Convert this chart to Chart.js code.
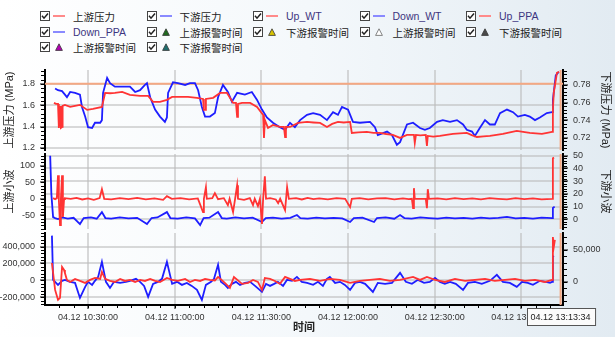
<!DOCTYPE html>
<html>
<head>
<meta charset="utf-8">
<script src="https://cdn.jsdelivr.net/npm/chart.js@4.4.0/dist/chart.umd.min.js"></script>
<style>
html,body{margin:0;padding:0;}
body{width:615px;height:337px;overflow:hidden;position:relative;
  background:linear-gradient(to right,#ffffff 0%,#f4f8fb 50%,#e2ebf2 100%);
  font-family:'Liberation Sans','Noto Sans CJK SC',sans-serif;}
canvas{position:absolute;left:0;top:0;}
.item{position:absolute;height:14px;display:flex;align-items:center;font-size:10.5px;color:#222;white-space:nowrap;}
.item .sw{width:12px;margin-left:3px;margin-right:8px;display:flex;align-items:center;justify-content:center;}
.item .en{color:#3d3580;}
</style>
</head>
<body>
<div id="legend"></div>
<canvas id="c1" width="615" height="337"></canvas>
<canvas id="c2" width="615" height="337"></canvas>
<canvas id="c3" width="615" height="337"></canvas>
<script>
// ---------------- data ----------------
const DAY = '04.12';
const xTickTimes = ['10:30:00','11:00:00','11:30:00','12:00:00','12:30:00','13:00:00'];
const xRange = ['10:15:06','13:14:24'];
const cursorTime = '13:13:34';
const upAlarmLevel = 1.8;

// legend entries: [marker, colour, label]
const legendItems = [
  ['line','#ff8a8a','上游压力'],['line','#8a8aff','下游压力'],['line','#ff8a8a','Up_WT'],['line','#8a8aff','Down_WT'],['line','#ff8a8a','Up_PPA'],
  ['line','#8a8aff','Down_PPA'],['tri','#1f6b1f','上游报警时间'],['tri','#d8c400','下游报警时间'],['tri','#ffffff','上游报警时间'],['tri','#4a4a4a','下游报警时间'],
  ['tri','#b400b4','上游报警时间'],['tri','#1f6f6f','下游报警时间']
];

// time in minutes after 10:00, value
const upPress = [[18.2,1.622],[18.9,1.612],[19.6,1.612],[19.9,1.387],[20.3,1.593],[20.6,1.387],[21.0,1.396],[21.2,1.593],[22.0,1.603],[23.8,1.584],[25.5,1.594],[27.2,1.603],[29.7,1.556],[31.7,1.565],[34.8,1.584],[35.9,1.715],[37.6,1.712],[39.3,1.715],[41.8,1.725],[44.5,1.697],[48.0,1.687],[50.8,1.687],[52.5,1.631],[54.9,1.631],[57.3,1.650],[59.1,1.678],[61.8,1.678],[64.6,1.678],[67.7,1.669],[69.8,1.659],[70.1,1.556],[70.5,1.556],[70.8,1.659],[73.3,1.669],[75.7,1.715],[78.1,1.715],[80.2,1.622],[81.2,1.622],[81.6,1.490],[81.9,1.612],[83.3,1.622],[86.1,1.622],[88.5,1.584],[90.6,1.509],[90.9,1.293],[91.2,1.462],[92.3,1.387],[94.0,1.415],[96.4,1.396],[97.8,1.396],[98.2,1.302],[98.5,1.396],[99.9,1.396],[102.7,1.434],[105.8,1.443],[108.0,1.438],[110.3,1.434],[112.7,1.396],[114.5,1.425],[116.5,1.443],[118.5,1.438],[120.7,1.443],[121.0,1.443],[121.3,1.340],[123.5,1.345],[126.5,1.349],[128.8,1.340],[131.0,1.340],[133.2,1.330],[135.5,1.321],[138.0,1.293],[140.4,1.321],[142.8,1.321],[143.1,1.246],[143.5,1.321],[145.0,1.318],[146.9,1.321],[147.3,1.218],[147.6,1.312],[149.5,1.305],[151.8,1.312],[154.0,1.322],[156.3,1.331],[158.7,1.336],[161.1,1.340],[162.8,1.320],[164.6,1.302],[166.9,1.308],[169.1,1.312],[171.4,1.322],[173.6,1.331],[176.0,1.345],[178.4,1.359],[180.6,1.350],[182.9,1.340],[185.0,1.336],[187.1,1.331],[188.9,1.340],[190.6,1.349],[190.9,1.556],[191.2,1.715],[192.3,1.903],[193.0,1.913]];

const downPress = [[18.6,0.776],[19.6,0.774],[21.0,0.773],[22.0,0.769],[22.7,0.766],[23.8,0.772],[25.5,0.771],[27.2,0.769],[27.9,0.755],[29.0,0.744],[30.0,0.732],[31.4,0.731],[32.4,0.737],[34.2,0.737],[34.8,0.740],[35.2,0.771],[36.6,0.788],[37.6,0.782],[39.3,0.778],[41.8,0.778],[44.5,0.778],[46.3,0.772],[48.0,0.774],[49.7,0.780],[50.4,0.782],[51.5,0.766],[53.2,0.752],[54.9,0.744],[56.6,0.738],[57.3,0.743],[57.7,0.771],[59.4,0.783],[61.1,0.782],[63.6,0.780],[65.3,0.782],[67.0,0.782],[68.1,0.774],[69.4,0.755],[70.5,0.744],[72.2,0.744],[73.9,0.748],[75.0,0.766],[76.7,0.780],[78.4,0.772],[79.8,0.761],[81.6,0.771],[84.3,0.769],[86.7,0.772],[88.5,0.763],[90.2,0.752],[91.9,0.743],[94.0,0.737],[96.4,0.732],[98.2,0.729],[99.9,0.737],[101.6,0.732],[103.4,0.740],[105.8,0.746],[107.9,0.748],[110.3,0.746],[112.7,0.740],[114.8,0.749],[116.5,0.746],[117.9,0.755],[120.0,0.752],[121.7,0.738],[124.1,0.737],[127.6,0.738],[129.3,0.732],[130.3,0.723],[133.5,0.727],[135.2,0.723],[136.9,0.712],[138.0,0.715],[140.4,0.735],[142.5,0.737],[144.9,0.731],[146.6,0.729],[148.3,0.731],[150.8,0.738],[152.8,0.740],[155.3,0.738],[157.7,0.740],[159.8,0.735],[161.1,0.729],[162.9,0.727],[163.9,0.722],[165.6,0.731],[167.4,0.740],[169.1,0.735],[170.8,0.735],[172.6,0.748],[175.0,0.752],[177.1,0.749],[178.8,0.744],[181.2,0.746],[182.9,0.744],[184.7,0.740],[186.4,0.743],[188.8,0.748],[190.6,0.749],[190.9,0.763],[191.9,0.791],[193.0,0.795]];

const upWT = [[17.9,2],[18.6,-1],[19.2,2],[19.6,71],[19.9,-4],[20.3,-79],[20.6,0],[21.0,71],[21.3,-55],[21.7,-1],[22.0,2],[24,0],[26,3],[28,-2],[30,1],[32,-3],[34,2],[34.8,29],[35.6,0],[38,-2],[41,2],[44,-1],[47,3],[50,-2],[53,1],[56,-3],[57.3,8],[59,0],[62,2],[65,-2],[68,1],[69.8,-40],[70.1,0],[70.8,35],[71.1,0],[73,2],[73.9,17],[75,-1],[77,2],[78.4,-19],[79,0],[80.2,-40],[80.9,0],[81.6,41],[81.9,0],[84,-3],[86,2],[87.1,-19],[87.7,0],[88.8,-22],[89.5,0],[90.2,-76],[90.6,0],[91.2,68],[91.6,0],[93,2],[95,-2],[95.8,-13],[96.5,0],[98.2,-34],[98.9,35],[99.5,0],[102,2],[104,-2],[106,3],[108,-1],[110,1],[113,-2],[116,2],[119,0],[120.7,-25],[121.3,0],[124,2],[127,-2],[130,1],[133,2],[136,-2],[139,1],[141,-1],[142.1,0],[142.5,-28],[142.8,32],[143.1,0],[146.9,0],[147.3,-28],[147.6,29],[148,0],[151,1],[154,-2],[157,2],[160,-1],[163,1],[166,-2],[169,2],[172,0],[175,-2],[178,2],[181,-1],[184,1],[187,-2],[190.6,0],[190.9,122],[191.3,124]];

const downWT = [[16.9,50],[17.3,20],[17.9,1.8],[18.6,1.0],[19.6,0.2],[21,1.5],[23,0.5],[25,1.2],[27.2,-3.7],[28.5,1],[31,1.5],[33,0.5],[34.8,5.7],[36,1],[38,0.5],[41,1.5],[44,0.8],[47,1.2],[50.4,-3.7],[52,1],[54,1.5],[57.3,5.7],[58.5,1],[61,0.5],[64,1.5],[67,0.7],[68.8,-4.5],[70,1],[72,1.3],[75,5.7],[76.3,1],[78,0.5],[81,1.5],[84,0.8],[87,1.3],[90.2,-2.1],[91.5,1],[94,1.4],[97,0.6],[100,1.2],[102.3,3.4],[103.5,1],[106,0.6],[109,1.4],[112,0.8],[115,1.2],[118,0.7],[120.7,-2.1],[122,1],[125,1.3],[129,-2.1],[130,1],[133,1.5],[136,0.5],[138,3.4],[139.5,1],[142,0.5],[145,1.5],[148,1],[151,0.6],[154,1.3],[157,0.8],[160,1.2],[163,0.5],[166,1.4],[169,0.8],[172,1.2],[175,2],[178,0.7],[181,1.2],[184,0.6],[187,1.3],[190.6,1],[190.9,8.9],[191.5,10]];

const upPPA = [[17.5,206000],[18.6,-112000],[19.6,-229000],[20.3,-206000],[21.0,159000],[21.7,124000],[22.0,88000],[22.7,6000],[23.8,-18000],[25.5,18000],[27.2,-6000],[29.0,-29000],[30.7,6000],[32.4,29000],[34.2,18000],[34.8,100000],[35.9,18000],[37.6,-6000],[39.3,-18000],[41.1,18000],[42.8,-6000],[44.5,6000],[46.3,-18000],[48.0,6000],[49.7,-6000],[51.5,18000],[53.2,-6000],[54.9,-18000],[57.3,29000],[59.1,6000],[61.1,-6000],[63.6,18000],[65.3,-18000],[67.0,6000],[68.8,-6000],[70.5,18000],[72.2,6000],[73.9,0],[75.0,41000],[76.4,0],[77.7,-41000],[79.1,-88000],[80.5,41000],[81.9,0],[83.3,-41000],[85.4,-29000],[87.1,6000],[88.8,-18000],[90.2,-112000],[91.2,29000],[93.0,18000],[94.7,-6000],[96.4,-41000],[98.2,41000],[99.9,18000],[101.6,-6000],[103.4,6000],[106.8,18000],[110.3,-6000],[113.7,18000],[117.2,6000],[120.7,-29000],[124.1,-6000],[127.6,6000],[131.0,18000],[134.5,-6000],[138.0,6000],[142.5,41000],[144.9,6000],[147.3,41000],[150.1,6000],[153.5,-18000],[157.0,18000],[160.5,-6000],[163.9,6000],[167.4,18000],[170.8,-6000],[174.3,6000],[177.8,18000],[181.2,-6000],[184.7,6000],[188.2,-18000],[190.6,6000],[190.9,512000],[191.2,394000],[191.6,480000]];

const downPPA = [[17.5,71900],[17.9,3100],[18.6,0],[19.6,-4700],[21.0,1600],[22.0,3100],[23.8,0],[25.5,-1600],[27.2,-25000],[29.0,-7800],[30.0,0],[31.4,-4700],[32.4,1600],[33.5,7800],[34.8,31250],[36.2,0],[37.6,-9400],[39.0,0],[41.1,-1600],[43.1,0],[44.5,1600],[46.6,4700],[48.0,0],[49.4,-6250],[50.8,-23400],[52.5,-3100],[54.2,0],[55.6,4700],[57.3,31250],[59.1,-3100],[60.8,0],[62.5,-4700],[64.2,-1600],[65.9,-6250],[67.7,-12500],[69.4,-28100],[70.8,-4700],[72.6,0],[73.6,4700],[75.0,26600],[76.0,0],[77.4,-4700],[78.4,-9400],[79.8,-3100],[81.2,0],[82.6,-4700],[84.3,-1600],[86.1,0],[87.8,-6250],[90.2,-15600],[91.6,-3100],[93.0,-6250],[94.4,-3100],[95.7,0],[97.5,-6250],[98.9,3100],[100.6,1600],[102.3,7800],[104.0,0],[105.8,-1600],[107.9,-4700],[109.6,0],[111.3,-6250],[112.7,4700],[113.7,7800],[115.5,-1600],[117.2,0],[118.9,-4700],[120.7,-12500],[122.4,-1600],[124.1,0],[125.9,-3100],[128.6,-15600],[130.3,-1600],[132.8,-3100],[135.2,-1600],[138.0,14000],[140.0,0],[142.1,-3100],[144.2,3100],[146.3,-1600],[148.3,0],[150.1,6250],[151.8,0],[153.5,-3100],[155.3,0],[157.3,-3100],[159.8,-12500],[161.5,-1600],[163.9,0],[166.3,-3100],[169.1,1600],[171.5,10900],[173.6,0],[176.0,-1600],[178.4,-7800],[180.2,0],[182.2,-1600],[184.0,-4700],[186.4,1600],[188.5,0],[189.9,-1600],[190.6,0],[190.9,39000],[191.2,40600]];

// ---------------- helpers ----------------
const toMin = s => { const [h,m,sec] = s.split(':').map(Number); return (h-10)*60 + m + (sec||0)/60; };
const pad2 = n => String(n).padStart(2,'0');
const fmtTime = v => { const tot = Math.round(v*60) + 36000; return pad2(Math.floor(tot/3600))+':'+pad2(Math.floor(tot%3600/60))+':'+pad2(tot%60); };
const pts = arr => arr.map(([x,y]) => ({x, y}));

// legend
const leg = document.getElementById('legend');
const colX = [40,146.5,253,359.5,466], rowY = [16,32,47];
legendItems.forEach(([kind,col,label],i) => {
  const d = document.createElement('div');
  d.className = 'item';
  d.style.left = colX[i%5]+'px';
  d.style.top = (rowY[Math.floor(i/5)]-7)+'px';
  const cb = '<svg width="10" height="10"><rect x="0.5" y="0.5" width="9" height="9" fill="#fff" stroke="#444"/><path d="M2 4.8 L4 7.2 L8 2.4" stroke="#222" stroke-width="1.5" fill="none"/></svg>';
  const sw = kind==='line'
    ? '<div style="width:12px;height:2px;background:'+col+'"></div>'
    : '<svg width="8" height="8"><polygon points="4,0.8 7.4,7.4 0.6,7.4" fill="'+col+'" stroke="'+(col==='#ffffff'?'#666':'#333')+'" stroke-width="0.8"/></svg>';
  const en = /^[A-Za-z_]+$/.test(label);
  d.innerHTML = cb + '<div class="sw">'+sw+'</div><span class="'+(en?'en':'')+'">'+label+'</span>';
  leg.appendChild(d);
});

// ---------------- chart setup ----------------
const FONT = "'Liberation Sans','Noto Sans CJK SC',sans-serif";
Chart.defaults.font.family = FONT;
Chart.defaults.font.size = 9;
Chart.defaults.color = '#333';
const GRID = 'rgba(185,185,185,0.55)';
const RED = '#ff3434', BLUE = '#1e1eff', ORANGE = '#f4a883';

const minorTicks = {
  id:'minorTicks',
  afterDraw(chart, args, opts) {
    const ctx = chart.ctx;
    ctx.save(); ctx.strokeStyle = '#000'; ctx.lineWidth = 1;
    ['yL','yR'].forEach(id => {
      const s = chart.scales[id]; if (!s) return;
      const t = s.ticks.map(k => k.value); if (t.length < 2) return;
      const step = (t[1]-t[0]) / (opts.n || 5);
      let v = t[0];
      while (v - step >= s.min) v -= step;
      for (; v <= s.max + 1e-9; v += step) {
        const y = Math.round(s.getPixelForValue(v)) + 0.5;
        const x0 = id==='yL' ? s.right - 1 : s.left + 1;
        ctx.beginPath(); ctx.moveTo(x0, y); ctx.lineTo(x0 + (id==='yL'?-3:3), y); ctx.stroke();
      }
    });
    if (opts.xMinor) {
      const s = chart.scales.x;
      for (let v = Math.ceil(s.min/opts.xMinor)*opts.xMinor; v <= s.max; v += opts.xMinor) {
        const x = Math.round(s.getPixelForValue(v)) + 0.5;
        ctx.beginPath(); ctx.moveTo(x, s.top+1); ctx.lineTo(x, s.top+3); ctx.stroke();
      }
    }
    ctx.restore();
  }
};

const markers = {
  id:'markers',
  beforeDatasetsDraw(chart, args, opts) {
    if (opts.hLine == null) return;
    const {ctx, chartArea:a, scales} = chart;
    const y = scales.yL.getPixelForValue(opts.hLine);
    ctx.save(); ctx.strokeStyle = ORANGE; ctx.lineWidth = 2;
    ctx.beginPath(); ctx.moveTo(a.left, y); ctx.lineTo(a.right, y); ctx.stroke();
    ctx.restore();
  },
  afterDatasetsDraw(chart, args, opts) {
    const {ctx, chartArea:a, scales} = chart;
    const x = scales.x.getPixelForValue(toMin(cursorTime));
    ctx.save(); ctx.strokeStyle = ORANGE; ctx.lineWidth = 2;
    ctx.beginPath(); ctx.moveTo(x, a.top); ctx.lineTo(x, a.bottom); ctx.stroke();
    ctx.restore();
  },
  afterDraw(chart, args, opts) {
    if (!opts.box) return;
    const {ctx, chartArea:a, scales} = chart;
    const x = scales.x.getPixelForValue(toMin(cursorTime));
    const txt = DAY + ' ' + cursorTime;
    ctx.save();
    ctx.font = '9px ' + FONT;
    const w = ctx.measureText(txt).width + 8, h = 17;
    const bx = Math.round(x - w/2) + 0.5, by = Math.round(a.bottom + 3) + 0.5;
    ctx.fillStyle = '#fbfbfb'; ctx.fillRect(bx, by, w, h);
    ctx.strokeStyle = '#555'; ctx.lineWidth = 1; ctx.strokeRect(bx, by, w, h);
    ctx.fillStyle = '#222'; ctx.textAlign = 'center'; ctx.textBaseline = 'middle';
    ctx.fillText(txt, x, by + h/2 + 0.5);
    ctx.restore();
  }
};

function xScale(bottom) {
  return {
    type:'linear', min: toMin(xRange[0]), max: toMin(xRange[1]),
    afterBuildTicks: s => { s.ticks = xTickTimes.map(t => ({value: toMin(t)})); },
    ticks: {display: bottom, autoSkip:false, maxRotation:0, padding:3, color:'#333',
            callback: v => DAY + ' ' + fmtTime(v)},
    grid: {color: GRID, lineWidth: 2, drawTicks: bottom, tickLength: 4, tickColor:'#000', tickWidth:1},
    border: {display: bottom, color:'#000', width:2},
    title: {display: bottom, text:'时间', color:'#222', font:{size:11, weight:'bold'}, padding:{top:0,bottom:2}},
    afterFit: s => { s.height = bottom ? 32 : 0; s.paddingLeft = 0; s.paddingRight = 0; }
  };
}

function yScale(pos, min, max, step, fmt, title, grid) {
  return {
    position: pos, min, max,
    afterBuildTicks: s => {
      const t = [];
      for (let k = Math.ceil(min/step - 1e-9); k*step <= max + 1e-9; k++) t.push({value: +(k*step).toFixed(6)});
      s.ticks = t;
    },
    ticks: {stepSize: step, includeBounds:false, padding:5, color:'#333', callback: fmt},
    grid: {drawOnChartArea: grid, color: GRID, lineWidth: 2, tickLength: 5, tickColor:'#000', tickWidth:1},
    border: {color:'#000', width:2},
    title: {display: !!title, text: title, color:'#222', font:{size:11}, padding:{top:3.5, bottom:0}},
    afterFit: s => { s.width = pos==='left' ? 45 : 52; s.paddingTop = 0; s.paddingBottom = 0; }
  };
}

function lineDs(label, data, color, axis) {
  return {label, data: pts(data), yAxisID: axis, borderColor: color, backgroundColor: color,
          borderWidth: 1.8, pointRadius: 0, tension: 0, fill: false};
}

function make(id, padTop, padBottom, datasets, scales, pluginOpts) {
  return new Chart(document.getElementById(id), {
    type:'line',
    data:{datasets},
    options:{
      responsive:false, animation:false, events:[],
      layout:{padding:{top:padTop, bottom:padBottom, left:0, right:0}},
      scales,
      plugins:{legend:{display:false}, tooltip:{enabled:false}, markers: pluginOpts, minorTicks:{n:5, xMinor: pluginOpts.box ? 5 : 0}}
    },
    plugins:[markers, minorTicks]
  });
}

const f1 = v => v.toFixed(1), f2 = v => v.toFixed(2), f0 = v => String(Math.round(v));
const fk = v => Math.round(v).toLocaleString('en-US');

make('c1', 70, 187,
  [lineDs('上游压力', upPress, RED, 'yL'), lineDs('下游压力', downPress, BLUE, 'yR')],
  {x: xScale(false), yL: yScale('left', 1.18, 1.93, 0.2, f1, '上游压力 (MPa)', true),
   yR: yScale('right', 0.706, 0.797, 0.02, f2, '下游压力 (MPa)', false)},
  {hLine: upAlarmLevel});

make('c2', 154, 108,
  [lineDs('Up_WT', upWT, RED, 'yL'), lineDs('Down_WT', downWT, BLUE, 'yR')],
  {x: xScale(false), yL: yScale('left', -91, 135, 50, f0, '上游小波', false),
   yR: yScale('right', -7.6, 51.4, 10, f0, '下游小波', true)},
  {});

make('c3', 233, 0,
  [lineDs('Up_PPA', upPPA, RED, 'yL'), lineDs('Down_PPA', downPPA, BLUE, 'yR')],
  {x: xScale(true), yL: yScale('left', -290000, 560000, 200000, fk, '', true),
   yR: yScale('right', -36000, 76000, 50000, fk, '', false)},
  {box: true});
</script>
</body>
</html>
